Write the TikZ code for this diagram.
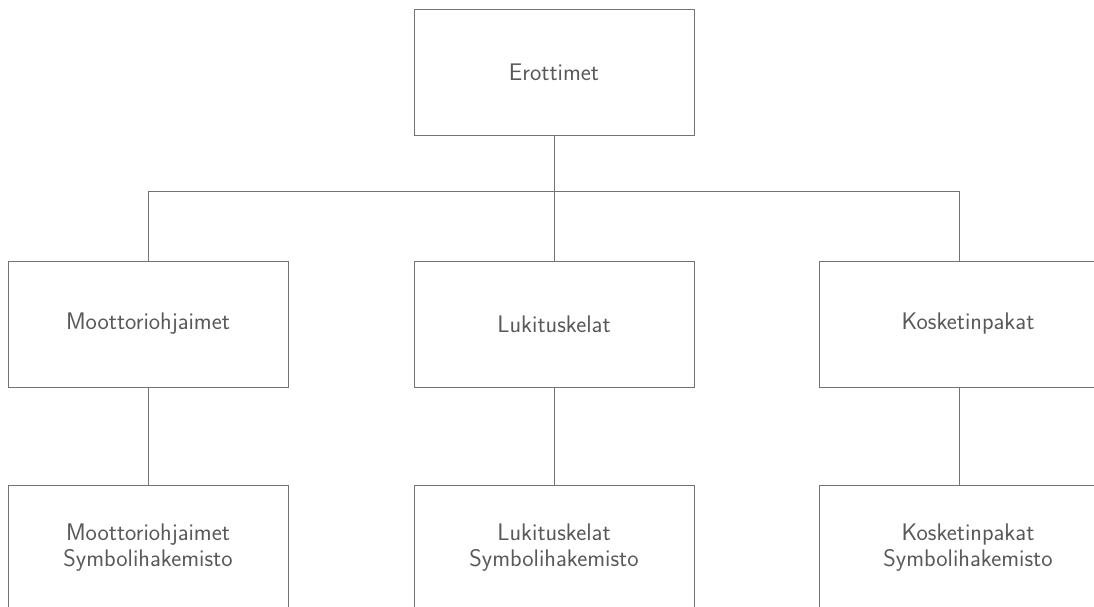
\documentclass[tikz,border=0pt]{standalone}
\usepackage{tikz}
\usetikzlibrary{
  positioning,
  calc
}
\usepackage{xcolor}

\tikzset{
  blockbox/.style={draw=black!55, line width=0.8pt, rectangle, minimum width=280pt, minimum height=126pt,
    text=black!65, align=center, inner sep=0pt, font=\sffamily\fontsize{24}{26}\selectfont},
  wire/.style={draw=black!55, line width=0.8pt}
}

\begin{document}
\begin{tikzpicture}[x=1pt, y=-1pt]
      % Frame
      \useasboundingbox (0,0) rectangle (1094,607);
      \clip (0,0) rectangle (1094,607);

      % Top box
      \node[blockbox] (erot) at (554,72) {Erottimet};

      % Middle row
      \node[blockbox] (moot) at (148,324) {Moottoriohjaimet};
      \node[blockbox] (luki) at (554,324) {Lukituskelat};
      \node[blockbox, minimum width=298pt] (kosk) at (968,324) {Kosketinpakat};

      % Bottom row
      \node[blockbox] (mootsym) at (148,548) {Moottoriohjaimet\\Symbolihakemisto};
      \node[blockbox] (lukisym) at (554,548) {Lukituskelat\\Symbolihakemisto};
      \node[blockbox, minimum width=298pt] (kosksym) at (968,548) {Kosketinpakat\\Symbolihakemisto};

      % Bus
      \coordinate (busl) at (148,191);
      \coordinate (busr) at (959,191);
      \coordinate (koskin) at (959,261);
      \coordinate (koskout) at (959,387);
      \coordinate (kosksymin) at (959,485);

      % Connectors
      \draw[wire] (busl) -- (busr);
      \draw[wire] (erot.south) -- (luki.north);
      \draw[wire] (busl) -- (moot.north);
      \draw[wire] (busr) -- (koskin);
      \draw[wire] (moot.south) -- (mootsym.north);
      \draw[wire] (luki.south) -- (lukisym.north);
      \draw[wire] (koskout) -- (kosksymin);
    \end{tikzpicture}
\end{document}
